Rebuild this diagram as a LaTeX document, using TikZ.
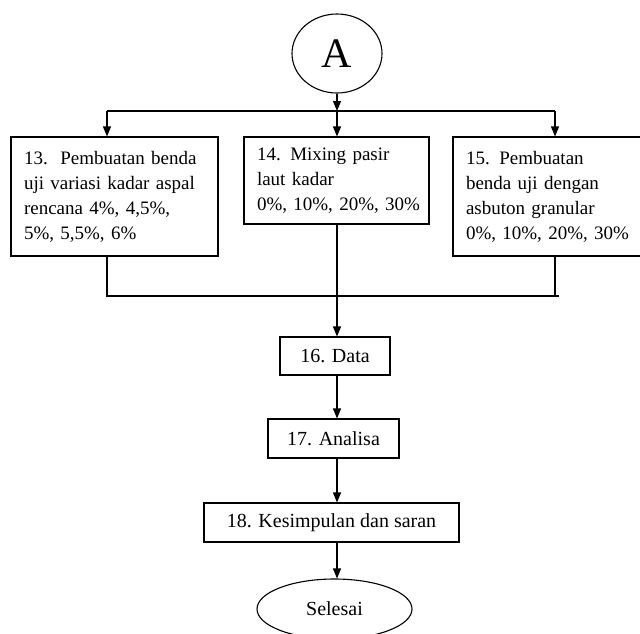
\documentclass[tikz,border=0pt]{standalone}
\usepackage{fontspec}
\setmainfont{Liberation Serif}
\usetikzlibrary{arrows.meta,shapes.geometric}
\begin{document}
\begin{tikzpicture}[x=1pt,y=-1pt,
  line width=1.1pt,
  arr/.style={-{Triangle[width=8pt,length=10pt]}},
  bigbox/.style={draw,rectangle,inner xsep=13pt,inner ysep=0pt,align=left,
    font=\fontsize{19}{25}\selectfont},
  smallbox/.style={draw,rectangle,inner sep=0pt,align=center,
    font=\fontsize{20}{25}\selectfont},
  oval/.style={draw,ellipse,inner sep=0pt}]
\clip (0,0) rectangle (640,633);
\node[oval,minimum width=90pt,minimum height=79pt,font=\fontsize{42}{46}\selectfont] (A) at (337,53.5) {A};
\node[bigbox,text width=181pt,minimum height=119pt] (b13) at (114.5,196.5)
  {\mbox{13.\ \ Pembuatan benda}\\\mbox{uji variasi kadar aspal}\\\mbox{rencana 4\%, 4,5\%,}\\\mbox{5\%, 5,5\%, 6\%}};
\node[bigbox,text width=159pt,minimum height=87pt] (b14) at (336.5,180.5)
  {\mbox{14. Mixing pasir}\\\mbox{laut kadar}\\\mbox{0\%, 10\%, 20\%, 30\%}};
\node[bigbox,text width=181pt,minimum height=119pt] (b15) at (556.5,196.5)
  {\mbox{15. Pembuatan}\\\mbox{benda uji dengan}\\\mbox{asbuton granular}\\\mbox{0\%, 10\%, 20\%, 30\%}};
\node[smallbox,minimum width=110pt,minimum height=38pt] (data) at (335,356) {16. Data};
\node[smallbox,minimum width=131pt,minimum height=39pt] (anal) at (333.5,438.5) {17. Analisa};
\node[smallbox,minimum width=255pt,minimum height=39pt] (kes) at (331.5,522.5) {18. Kesimpulan dan saran};
\node[oval,minimum width=155pt,minimum height=60pt,font=\fontsize{20}{25}\selectfont] (end) at (334.5,609) {Selesai};
% top distribution
\coordinate (j) at (337,111);
\coordinate (jl) at (107,111);
\coordinate (jr) at (555,111);
\draw[arr] (A.south -| j) -- (j);
\draw (jl) -- (jr);
\draw[arr] (jl) -- (jl |- b13.north);
\draw[arr] (j) -- (j |- b14.north);
\draw[arr] (jr) -- (jr |- b15.north);
% bottom join
\coordinate (kl) at (107,296);
\coordinate (kr) at (559,296);
\draw (kl |- b13.south) -- (kl) -- (kr);
\draw (555,296) -- (b15.south -| jr);
\draw[arr] (j |- b14.south) -- (j |- data.north);
\draw[arr] (j |- data.south) -- (j |- anal.north);
\draw[arr] (j |- anal.south) -- (j |- kes.north);
\draw[arr] (j |- kes.south) -- (j |- end.north);
\end{tikzpicture}
\end{document}
